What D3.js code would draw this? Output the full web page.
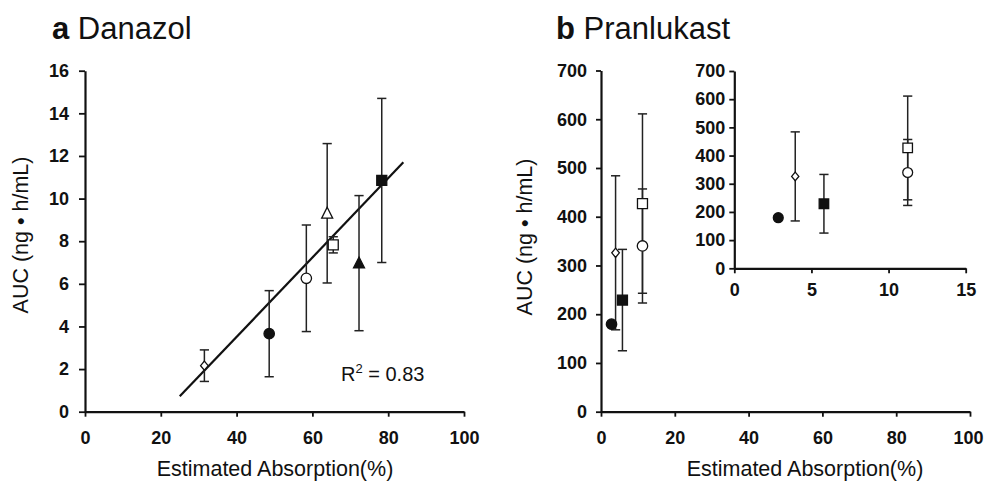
<!DOCTYPE html>
<html><head><meta charset="utf-8">
<script src="https://cdn.jsdelivr.net/npm/d3@7"></script>
<style>
body{margin:0;background:#fff}
svg{display:block}
text{font-family:"Liberation Sans",Arial,Helvetica,sans-serif;fill:#111}
</style>
</head><body>
<svg id="c" width="984" height="482"></svg>
<script>
// ---- Panel a: Danazol ----
const aAbsorption = [31.5, 48.6, 58.4, 63.9, 65.5, 72.3, 78.3];
const aAUC        = [2.16, 3.66, 6.26, 9.31, 7.83, 6.97, 10.85];
const aSD         = [0.74, 2.02, 2.50, 3.27, 0.38, 3.17, 3.85];
const aShape      = ["diamond","circle","circle","triangle","square","triangle","square"];
const aFilled     = [false, true, false, false, false, true, true];
const aFitX = [25, 84];
const aFitY = [0.72, 11.7];
const aXTicks = [0, 20, 40, 60, 80, 100];
const aYTicks = [0, 2, 4, 6, 8, 10, 12, 14, 16];
const aR2 = "0.83";

// ---- Panel b: Pranlukast ----
const bAbsorption = [2.85, 3.95, 5.81, 11.24, 11.24];
const bAUC        = [179.5, 326, 229, 427, 340];
const bSD         = [0, 158, 104, 184, 117];
const bShape      = ["circle","diamond","square","square","circle"];
const bFilled     = [true, false, true, false, false];
const bXTicks = [0, 20, 40, 60, 80, 100];
const bYTicks = [0, 100, 200, 300, 400, 500, 600, 700];
const insetXTicks = [0, 5, 10, 15];
const insetYTicks = [0, 100, 200, 300, 400, 500, 600, 700];

const yTitle = "AUC (ng \u2022 h/mL)";
const xTitle = "Estimated Absorption(%)";

const svg = d3.select("#c");
svg.append("rect").attr("width",984).attr("height",482).attr("fill","#fff");

function axes(x, y, xTicks, yTicks, o) {
  const gx = svg.append("g")
    .attr("transform", `translate(0,${y.range()[0]})`)
    .call(d3.axisBottom(x).tickValues(xTicks).tickSize(o.xTick).tickSizeOuter(0).tickFormat(d3.format("d")));
  const gy = svg.append("g")
    .attr("transform", `translate(${x.range()[0]},0)`)
    .call(d3.axisLeft(y).tickValues(yTicks).tickSize(o.yTick).tickPadding(o.yPad).tickSizeOuter(0).tickFormat(d3.format("d")));
  [gx, gy].forEach(g => {
    g.attr("font-size", null).attr("font-family", null);
    g.select(".domain").attr("stroke", "#111").attr("stroke-width", 2.2);
    g.selectAll(".tick line").attr("stroke", "#111").attr("stroke-width", 1.8);
  });
  gx.selectAll(".tick text").attr("y", o.xLabY).attr("dy", null)
    .style("font-size", o.xFont + "px").style("font-weight", "bold").attr("fill", "#111");
  gy.selectAll(".tick text")
    .style("font-size", o.yFont + "px").style("font-weight", "bold").attr("fill", "#111");
  return gx;
}

function markerPath(shape, k) {
  if (shape === "square") { const h = 5 * k; return `M${-h},${-h}H${h}V${h}H${-h}Z`; }
  if (shape === "triangle") { return `M0,${-6*k}L${5.5*k},${4.8*k}L${-5.5*k},${4.8*k}Z`; }
  if (shape === "diamond") { return `M0,${-4.6*k}L${3.8*k},0L0,${4.6*k}L${-3.8*k},0Z`; }
  const r = 5.2 * k;
  return `M${r},0A${r},${r} 0 1,1 ${-r},0A${r},${r} 0 1,1 ${r},0Z`;
}

function points(x, y, xs, ys, sds, shapes, filled, k) {
  const g = svg.append("g");
  xs.forEach((v, i) => {
    if (sds[i] > 0) {
      const cx = x(v), t = y(ys[i] + sds[i]), b = y(ys[i] - sds[i]);
      g.append("line").attr("x1", cx).attr("x2", cx).attr("y1", t).attr("y2", b)
        .attr("stroke", "#222").attr("stroke-width", 1.5);
      [t, b].forEach(yy => g.append("line").attr("x1", cx - 4.6).attr("x2", cx + 4.6)
        .attr("y1", yy).attr("y2", yy).attr("stroke", "#222").attr("stroke-width", 1.5));
    }
  });
  xs.forEach((v, i) => {
    g.append("path").attr("d", markerPath(shapes[i], k))
      .attr("transform", `translate(${x(v)},${y(ys[i])})`)
      .attr("fill", filled[i] ? "#111" : "#fff")
      .attr("stroke", "#111").attr("stroke-width", 1.3);
  });
}

// Panel a
const xa = d3.scaleLinear().domain([0, 100]).range([85, 464]);
const ya = d3.scaleLinear().domain([0, 16]).range([411.7, 70.7]);
axes(xa, ya, aXTicks, aYTicks, {xTick: 5, yTick: 6, yPad: 10, xLabY: 32, xFont: 18, yFont: 18});
svg.append("path")
  .attr("d", d3.line().x(d => xa(d[0])).y(d => ya(d[1]))(aFitX.map((v, i) => [v, aFitY[i]])))
  .attr("stroke", "#111").attr("stroke-width", 2.2).attr("fill", "none");
points(xa, ya, aAbsorption, aAUC, aSD, aShape, aFilled, 1);

const r2 = svg.append("text").attr("x", 341).attr("y", 381).style("font-size", "20px");
r2.append("tspan").text("R");
r2.append("tspan").attr("dy", -8).style("font-size", "13px").text("2");
r2.append("tspan").attr("dy", 8).text(" = " + aR2);

// Panel b main
const xb = d3.scaleLinear().domain([0, 100]).range([601, 970]);
const yb = d3.scaleLinear().domain([0, 700]).range([411.7, 70.5]);
const gxb = axes(xb, yb, bXTicks, bYTicks, {xTick: 5, yTick: 5, yPad: 9, xLabY: 32, xFont: 18, yFont: 18});
gxb.selectAll(".tick text").filter(d => d === 100).attr("dx", -2);
points(xb, yb, bAbsorption, bAUC, bSD, bShape, bFilled, 1);

// Inset
const xi = d3.scaleLinear().domain([0, 15]).range([734.3, 965.7]);
const yi = d3.scaleLinear().domain([0, 700]).range([268.3, 71]);
axes(xi, yi, insetXTicks, insetYTicks, {xTick: 5, yTick: 5, yPad: 4, xLabY: 28, xFont: 18, yFont: 18});
points(xi, yi, bAbsorption, bAUC, bSD, bShape, bFilled, 0.95);

// Titles
function title(x, letter, name) {
  const t = svg.append("text").attr("x", x).attr("y", 39).style("font-size", "31px");
  t.append("tspan").style("font-weight", "bold").text(letter);
  t.append("tspan").text(" " + name);
}
title(52, "a", "Danazol");
title(556, "b", "Pranlukast");

// Axis titles
[[275, 476], [805, 476]].forEach(([x, y]) =>
  svg.append("text").attr("x", x).attr("y", y).attr("text-anchor", "middle")
    .style("font-size", "21.5px").text(xTitle));
[[28, 235], [532, 237]].forEach(([x, y]) =>
  svg.append("text").attr("transform", `translate(${x},${y}) rotate(-90)`)
    .attr("text-anchor", "middle").style("font-size", "21.5px").text(yTitle));
</script>
</body></html>
